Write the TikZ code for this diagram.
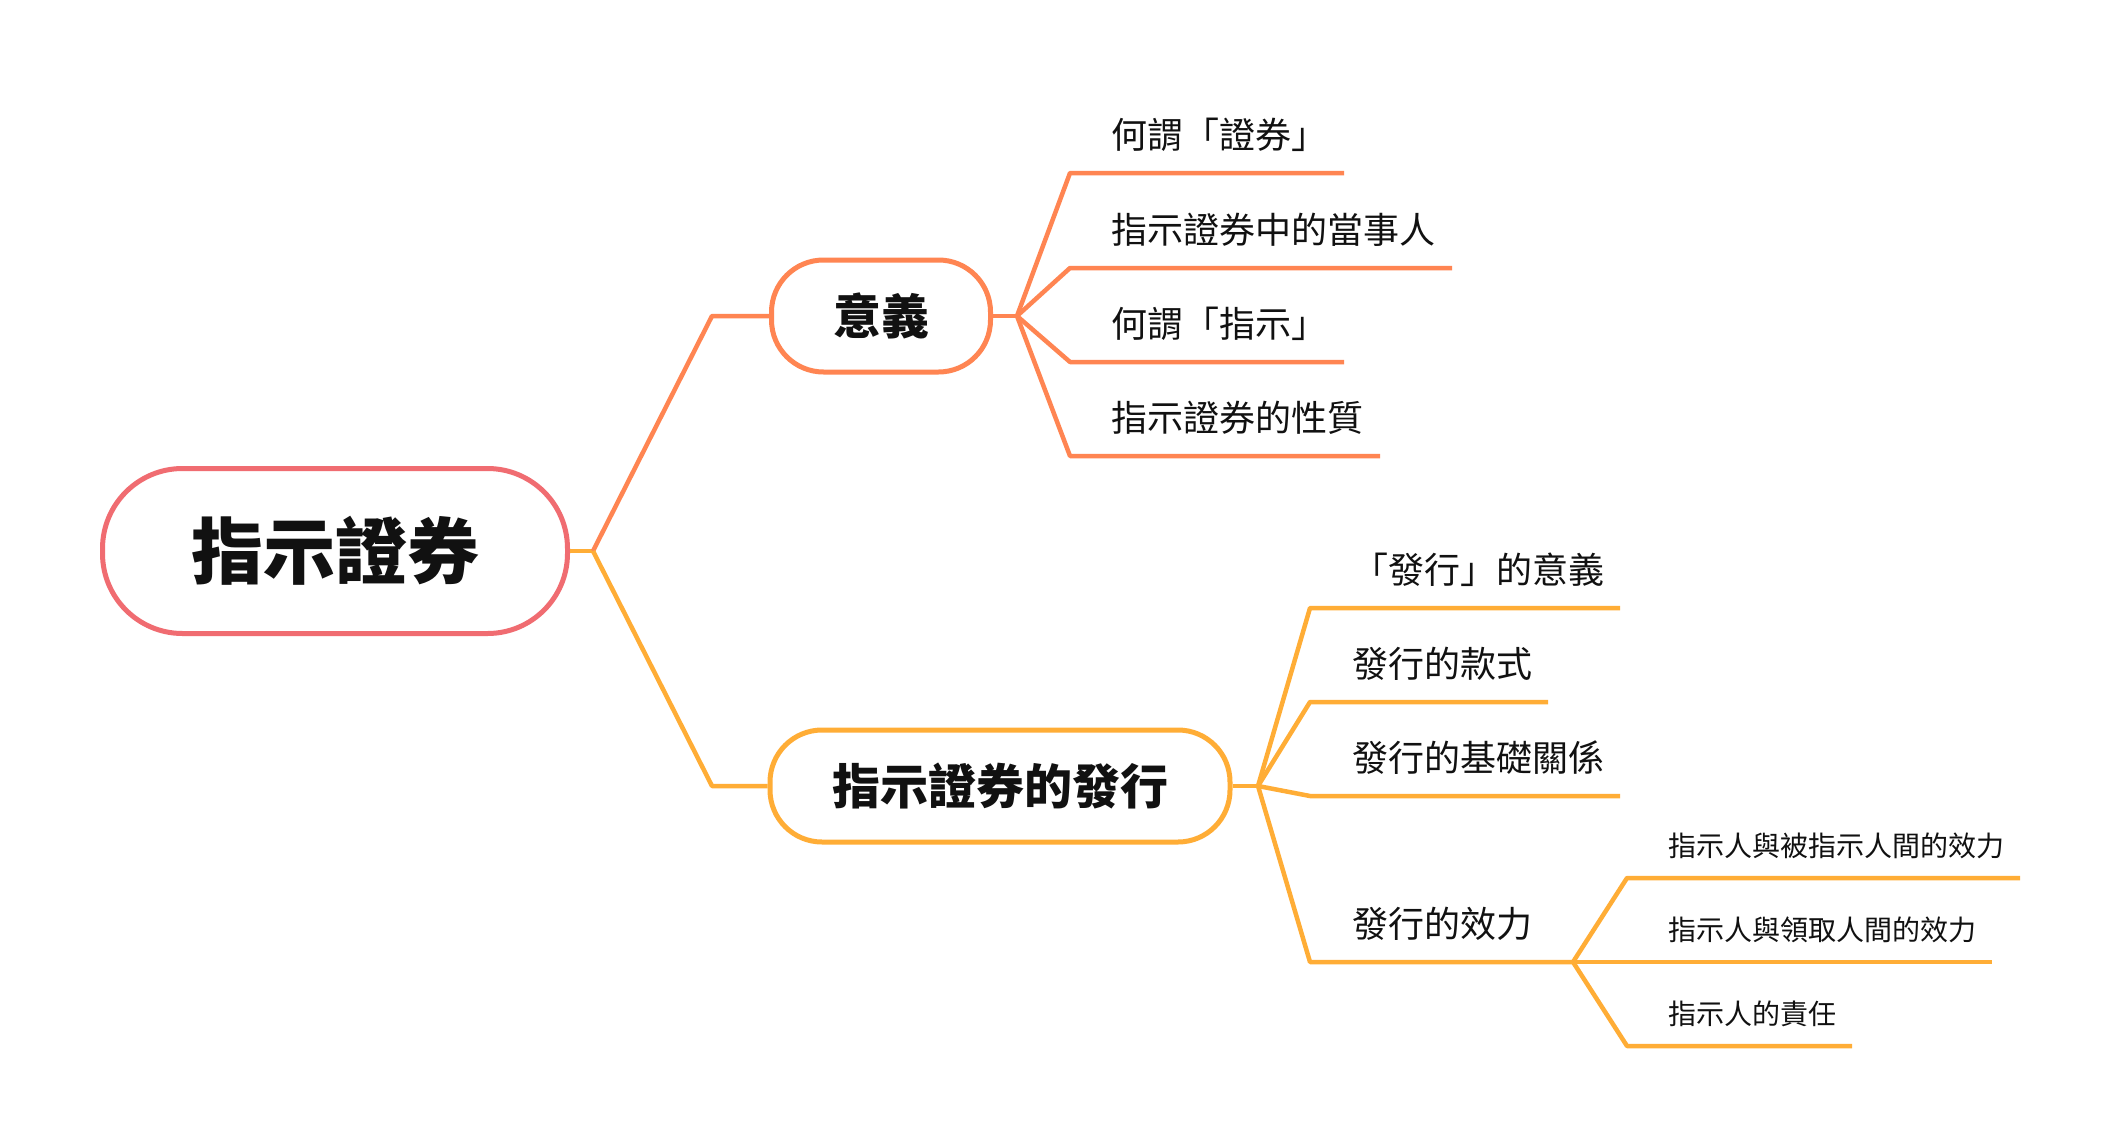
\documentclass[tikz,border=0pt]{standalone}
\usepackage{fontspec}
\setmainfont{Noto Sans CJK TC}
\definecolor{rootc}{HTML}{F06C71}
\definecolor{coralc}{HTML}{FF8552}
\definecolor{yelc}{HTML}{FFAD36}
\definecolor{txtc}{HTML}{111111}
\begin{document}
\begin{tikzpicture}[x=1pt,y=-1pt,
  rootbox/.style={draw=rootc, line width=5pt, rounded corners=80pt, minimum width=465pt, minimum height=165pt, inner sep=0pt, fill=white, text=txtc, font=\fontsize{72}{80}\selectfont\bfseries},
  midbox/.style={line width=5pt, rounded corners=52pt, minimum height=112pt, inner sep=0pt, fill=white, text=txtc, font=\fontsize{48}{56}\selectfont\bfseries},
  leaftext/.style={anchor=base west, inner sep=0pt, text=txtc, font=\fontsize{36}{42}\selectfont},
  subtext/.style={anchor=base west, inner sep=0pt, text=txtc, font=\fontsize{28}{34}\selectfont},
  cline/.style={draw=coralc, line width=4.5pt, line join=round},
  yline/.style={draw=yelc, line width=4.5pt, line join=round}
]
\useasboundingbox[fill=white] (0,0) rectangle (2120,1148);

% main nodes
\node[rootbox] (root) at (335,551) {指示證券};
\node[midbox, draw=coralc, minimum width=219pt] (yy) at (881,316) {意義};
\node[midbox, draw=yelc, minimum width=460pt] (fx) at (1000,786) {指示證券的發行};

% junctions and elbows
\coordinate (jr) at (593,551);
\coordinate (e1) at (712,316);
\coordinate (e2) at (712,786);
\coordinate (j1) at (1017,316);
\coordinate (j2) at (1258,786);
\coordinate (j3) at (1573,962);

\draw[yline] (root.east) -- (jr);
\draw[cline] (jr) -- (e1) -- (yy.west);
\draw[yline] (jr) -- (e2) -- (fx.west);
\draw[cline] (yy.east) -- (j1);
\draw[yline] (fx.east) -- (j2);

% upper leaves
\coordinate (l1s) at (1070,173); \coordinate (l1e) at (1344,173);
\coordinate (l2s) at (1070,268); \coordinate (l2e) at (1452,268);
\coordinate (l3s) at (1070,362); \coordinate (l3e) at (1344,362);
\coordinate (l4s) at (1070,456); \coordinate (l4e) at (1380,456);
\draw[cline] (j1) -- (l1s) -- (l1e);
\draw[cline] (j1) -- (l2s) -- (l2e);
\draw[cline] (j1) -- (l3s) -- (l3e);
\draw[cline] (j1) -- (l4s) -- (l4e);
\node[leaftext] (l1) at (1111,148) {何謂「證券」};
\node[leaftext] (l2) at (1111,243) {指示證券中的當事人};
\node[leaftext] (l3) at (1111,337) {何謂「指示」};
\node[leaftext] (l4) at (1111,431) {指示證券的性質};

% lower leaves
\coordinate (m1s) at (1310,608); \coordinate (m1e) at (1620,608);
\coordinate (m2s) at (1310,702); \coordinate (m2e) at (1548,702);
\coordinate (m3s) at (1310,796); \coordinate (m3e) at (1620,796);
\coordinate (m4s) at (1310,962);
\draw[yline] (j2) -- (m1s) -- (m1e);
\draw[yline] (j2) -- (m2s) -- (m2e);
\draw[yline] (j2) -- (m3s) -- (m3e);
\draw[yline] (j2) -- (m4s) -- (j3);
\node[leaftext] (m1) at (1352,583) {「發行」的意義};
\node[leaftext] (m2) at (1352,677) {發行的款式};
\node[leaftext] (m3) at (1352,771) {發行的基礎關係};
\node[leaftext] (m4) at (1352,937) {發行的效力};

% sub leaves
\coordinate (s1s) at (1627,878); \coordinate (s1e) at (2020,878);
\coordinate (s2e) at (1992,962);
\coordinate (s3s) at (1627,1046); \coordinate (s3e) at (1852,1046);
\draw[yline] (j3) -- (s1s) -- (s1e);
\draw[yline] (j3) -- (s2e);
\draw[yline] (j3) -- (s3s) -- (s3e);
\node[subtext] (s1) at (1668,856) {指示人與被指示人間的效力};
\node[subtext] (s2) at (1668,940) {指示人與領取人間的效力};
\node[subtext] (s3) at (1668,1024) {指示人的責任};
\end{tikzpicture}
\end{document}
